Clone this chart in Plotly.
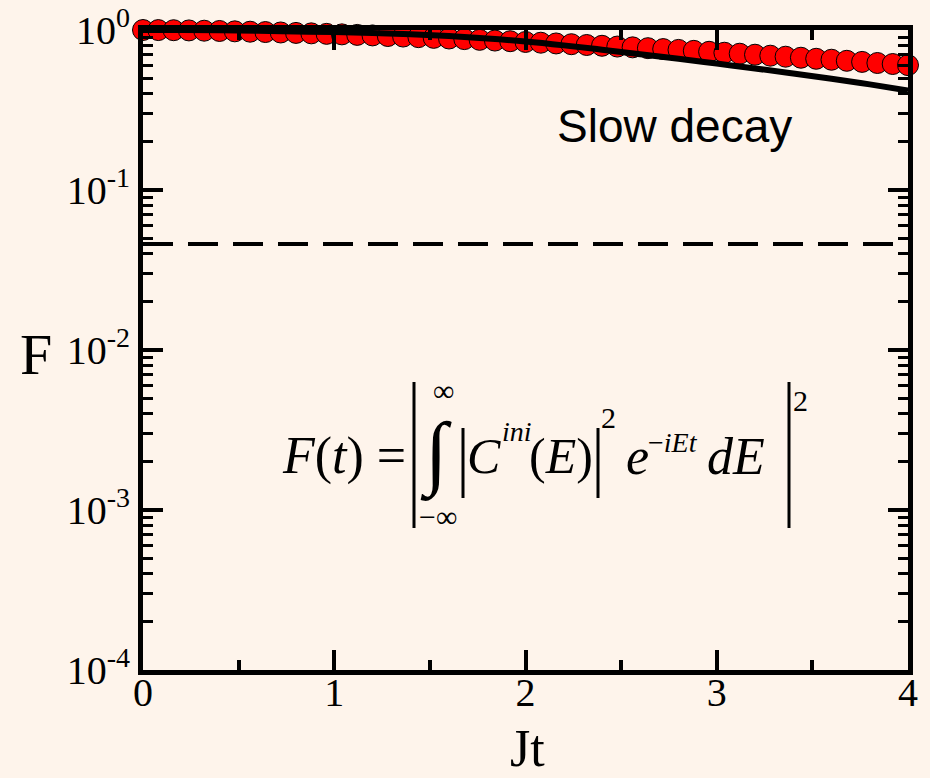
import plotly.graph_objects as go

# ---------------- data ----------------
t_markers = [0.00, 0.08, 0.16, 0.24, 0.32, 0.40, 0.48, 0.56, 0.64, 0.72,
             0.80, 0.88, 0.96, 1.04, 1.12, 1.20, 1.28, 1.36, 1.44, 1.52,
             1.60, 1.68, 1.76, 1.84, 1.92, 2.00, 2.08, 2.16, 2.24, 2.32,
             2.40, 2.48, 2.56, 2.64, 2.72, 2.80, 2.88, 2.96, 3.04, 3.12,
             3.20, 3.28, 3.36, 3.44, 3.52, 3.60, 3.68, 3.76, 3.84, 3.92, 4.00]
F_markers = [1.000, 0.999, 0.997, 0.994, 0.990, 0.986, 0.981, 0.976, 0.971, 0.965,
             0.959, 0.953, 0.946, 0.939, 0.932, 0.925, 0.917, 0.910, 0.902, 0.893,
             0.885, 0.877, 0.868, 0.859, 0.851, 0.842, 0.833, 0.824, 0.815, 0.806,
             0.797, 0.788, 0.779, 0.770, 0.760, 0.751, 0.741, 0.731, 0.721, 0.711,
             0.701, 0.691, 0.681, 0.671, 0.661, 0.652, 0.642, 0.632, 0.622, 0.613, 0.603]

t_line = [0.0, 0.2, 0.4, 0.6, 0.8, 1.0, 1.2, 1.4, 1.6, 1.8, 2.0,
          2.2, 2.4, 2.6, 2.8, 3.0, 3.2, 3.4, 3.6, 3.8, 4.0]
F_line = [1.000, 0.9988, 0.9954, 0.9886, 0.9795, 0.9705, 0.9572, 0.9397, 0.9162, 0.8851, 0.8472,
          0.8017, 0.7534, 0.7063, 0.6607, 0.6166, 0.5754, 0.5346, 0.4955, 0.4571, 0.4188]

t_threshold = [0.0, 4.0]
F_threshold = [0.046, 0.046]

x_tick_vals = [0, 1, 2, 3, 4]
x_tick_text = ["0", "1", "2", "3", "4"]
y_tick_vals = [1e-4, 1e-3, 1e-2, 1e-1, 1e0]
y_tick_text = ["10<sup>-4</sup>", "10<sup>-3</sup>", "10<sup>-2</sup>",
               "10<sup>-1</sup>", "10<sup>0</sup>"]

# ---------------- layout helpers ----------------
W, H = 930, 778
L, R, T, B = 143, 22, 30, 108
PW, PH = W - L - R, H - T - B
BG = "#FEF4EB"


def px(x):
    return (x - L) / PW


def py(y):
    return (H - B - y) / PH


serif = "Liberation Serif"
sans = "Liberation Sans"

fig = go.Figure()

fig.add_trace(go.Scatter(
    x=t_threshold, y=F_threshold, mode="lines",
    line=dict(color="black", width=4, dash="30px,15px"),
    hoverinfo="skip", showlegend=False))

fig.add_trace(go.Scatter(
    x=t_markers, y=F_markers, mode="markers",
    marker=dict(symbol="circle", size=21, color="#FF0000",
                line=dict(color="black", width=1)),
    cliponaxis=False, showlegend=False))

fig.add_trace(go.Scatter(
    x=t_line, y=F_line, mode="lines",
    line=dict(color="black", width=6, shape="spline"),
    cliponaxis=False, showlegend=False))

minor_y = [k * 10 ** e for e in range(-4, 0) for k in range(2, 10)]
minor_x = [0.5, 1.5, 2.5, 3.5]

fig.update_layout(
    width=W, height=H,
    margin=dict(l=L, r=R, t=T, b=B, pad=0, autoexpand=False),
    paper_bgcolor=BG, plot_bgcolor=BG,
    showlegend=False,
    xaxis=dict(range=[0, 4], tickmode="array", tickvals=x_tick_vals, ticktext=x_tick_text,
               ticks="inside", ticklen=20, tickwidth=4, tickcolor="black",
               showline=True, linewidth=5, linecolor="black", mirror="ticks",
               showgrid=False, zeroline=False, automargin=False,
               ticklabelstandoff=-17,
               tickfont=dict(family=serif, size=40, color="black"),
               minor=dict(tickmode="array", tickvals=minor_x, ticks="inside",
                          ticklen=10, tickwidth=4, tickcolor="black", showgrid=False)),
    yaxis=dict(type="log", range=[-4, 0], tickmode="array", tickvals=y_tick_vals,
               ticktext=y_tick_text,
               ticks="inside", ticklen=20, tickwidth=4, tickcolor="black",
               showline=True, linewidth=5, linecolor="black", mirror="ticks",
               showgrid=False, zeroline=False, automargin=False,
               tickfont=dict(family=serif, size=40, color="black"),
               minor=dict(tickmode="array", tickvals=minor_y, ticks="inside",
                          ticklen=10, tickwidth=3, tickcolor="black", showgrid=False)),
)

ann = []


def add_text(text, x, y, size, family=serif, xanchor="center", yanchor="middle"):
    ann.append(dict(text=text, x=px(x), y=py(y), xref="paper", yref="paper",
                    xanchor=xanchor, yanchor=yanchor, showarrow=False,
                    font=dict(family=family, size=size, color="black")))


# axis titles
add_text("F", 36, 354, 58)
add_text("Jt", 527, 748, 52)

# annotation text
add_text("Slow decay", 674, 126, 46, family=sans)

# formula
add_text("<i>F</i>(<i>t</i>) =", 280, 456, 52, xanchor="left")
add_text("\u222b", 436, 453, 82)
add_text("\u221e", 443, 390, 30)
add_text("\u2212\u221e", 438, 516, 30)
add_text("<i>C</i>", 465, 456, 50, xanchor="left")
add_text("<i>ini</i>", 500, 431, 28, xanchor="left")
add_text("(<i>E</i>)", 527, 456, 50, xanchor="left")
add_text("2", 608, 417, 30)
add_text("<i>e</i>", 624, 456, 52, xanchor="left")
add_text("\u2212<i>iEt</i>", 646, 442, 28, xanchor="left")
add_text("<i>dE</i>", 705, 456, 52, xanchor="left")
add_text("2", 800, 400, 30)

fig.update_layout(annotations=ann)

shapes = []
for xb, y0, y1 in [(414, 382, 528), (789, 382, 528), (463, 428, 498), (598, 428, 498)]:
    shapes.append(dict(type="line", xref="paper", yref="paper",
                       x0=px(xb), x1=px(xb), y0=py(y0), y1=py(y1),
                       line=dict(color="black", width=3)))
fig.update_layout(shapes=shapes)

fig.write_html("out.html")
